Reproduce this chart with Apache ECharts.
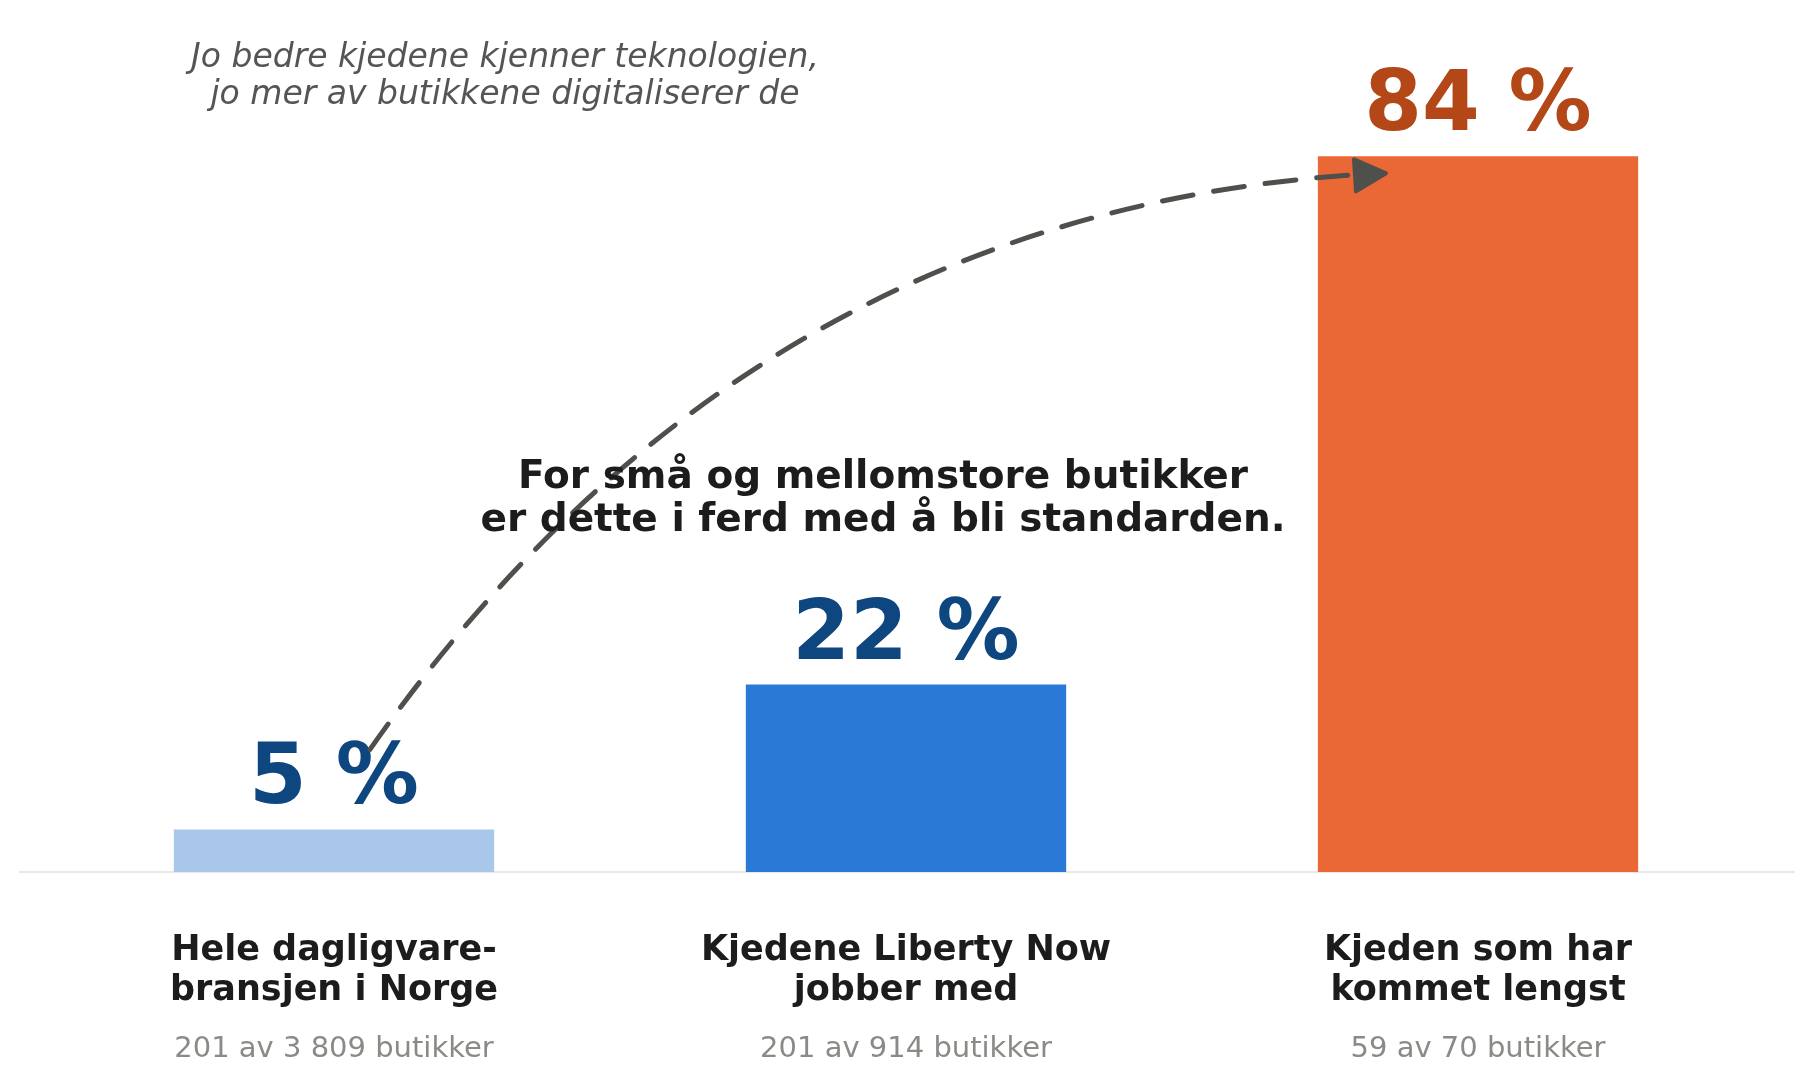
<!DOCTYPE html>
<html>
<head>
<meta charset="utf-8">
<script src="https://cdn.jsdelivr.net/npm/echarts@6/dist/echarts.min.js"></script>
<style>
  html, body { margin: 0; padding: 0; background: #fff; }
  #chart { width: 1813px; height: 1081px; }
</style>
</head>
<body>
<div id="chart"></div>
<script>
// data
var categories = ['Hele dagligvare-\nbransjen i Norge', 'Kjedene Liberty Now\njobber med', 'Kjeden som har\nkommet lengst'];
var subLabels = ['201 av 3 809 butikker', '201 av 914 butikker', '59 av 70 butikker'];
var shares = [5, 22, 84];
var barColors = ['#a9c7eb', '#2a79d6', '#ea6835'];
var labelColors = ['#0e477f', '#0e477f', '#b34718'];

var FONT = 'DejaVu Sans';

var chart = echarts.init(document.getElementById('chart'));

var option = {
  backgroundColor: '#fff',
  animation: false,
  grid: { left: 48, right: 49, top: 20, bottom: 209 },
  xAxis: {
    type: 'category',
    data: categories,
    axisLine: { show: false },
    axisTick: { show: false },
    axisLabel: {
      margin: 59,
      interval: 0,
      formatter: function (val, i) {
        var lines = val.split('\n').map(function (l) { return '{b|' + l + '}'; });
        return lines.join('\n') + '\n{s|' + subLabels[i] + '}';
      },
      rich: {
        b: { fontFamily: FONT, fontWeight: 'bold', fontSize: 35, color: '#1c1c1c', lineHeight: 40 },
        s: { fontFamily: FONT, fontSize: 29, color: '#8a8a86', lineHeight: 77 }
      }
    }
  },
  yAxis: {
    type: 'value',
    min: 0,
    max: 100,
    show: false,
    splitLine: { show: false }
  },
  series: [{
    type: 'bar',
    barCategoryGap: '44%',
    data: shares.map(function (v, i) {
      return {
        value: v,
        itemStyle: { color: barColors[i] },
        label: { color: labelColors[i] }
      };
    }),
    label: {
      show: true,
      position: 'top',
      distance: 6,
      formatter: '{c} %',
      fontFamily: FONT,
      fontWeight: 'bold',
      fontSize: 83
    }
  }]
};

chart.setOption(option);

// annotations anchored on the bars
var p0 = chart.convertToPixel({ seriesIndex: 0 }, [0, shares[0]]);
var p2 = chart.convertToPixel({ seriesIndex: 0 }, [2, shares[2]]);
var base = chart.convertToPixel({ seriesIndex: 0 }, [0, 0]);

var sx = p0[0] + 36, sy = p0[1] - 80;
var ex = p2[0] - 95, ey = p2[1] + 17;

chart.setOption({
  graphic: [
    {
      type: 'line',
      shape: { x1: 19, y1: base[1], x2: 1795, y2: base[1] },
      style: { stroke: '#ebe9e3', lineWidth: 2 },
      z: 1
    },
    {
      type: 'text',
      x: 505, y: 40,
      style: {
        text: 'Jo bedre kjedene kjenner teknologien,\njo mer av butikkene digitaliserer de',
        font: 'italic 33px "DejaVu Sans"',
        fill: '#555555',
        textAlign: 'center',
        textVerticalAlign: 'top',
        lineHeight: 37
      }
    },
    {
      type: 'bezierCurve',
      shape: { x1: sx, y1: sy, x2: ex - 4, y2: ey, cpx1: 752, cpy1: 205 },
      style: { stroke: '#4f4f4b', lineWidth: 5, fill: null, lineDash: [31, 21], lineCap: 'round' },
      z: 5
    },
    {
      type: 'polygon',
      shape: { points: [[ex + 3, ey], [ex - 29, ey - 14], [ex - 27, ey + 18]] },
      style: { fill: '#4f4f4b', stroke: '#4f4f4b', lineWidth: 4, lineJoin: 'round' },
      z: 6
    },
    {
      type: 'text',
      x: 883, y: 456,
      style: {
        text: 'For små og mellomstore butikker\ner dette i ferd med å bli standarden.',
        font: 'bold 39px "DejaVu Sans"',
        fill: '#1c1c1c',
        textAlign: 'center',
        textVerticalAlign: 'top',
        lineHeight: 43
      },
      z: 7
    }
  ]
});
</script>
</body>
</html>
